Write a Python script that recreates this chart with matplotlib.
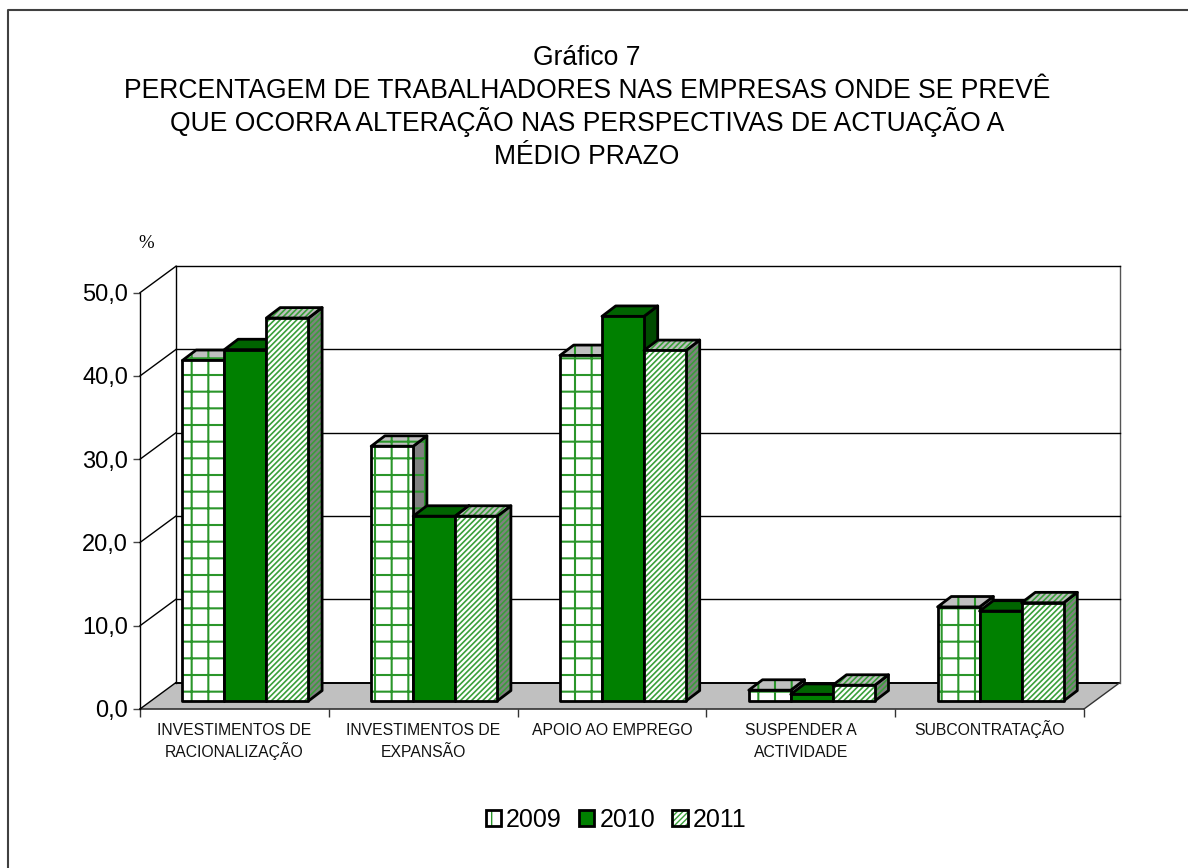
import matplotlib
matplotlib.use("Agg")
import matplotlib.pyplot as plt
from matplotlib.lines import Line2D
from matplotlib.patches import Polygon, Patch
from matplotlib.legend_handler import HandlerTuple

plt.rcParams['font.family'] = ['Liberation Sans', 'DejaVu Sans']

categorias = ["INVESTIMENTOS DE\nRACIONALIZAÇÃO", "INVESTIMENTOS DE\nEXPANSÃO",
              "APOIO AO EMPREGO", "SUSPENDER A\nACTIVIDADE", "SUBCONTRATAÇÃO"]
anos = ["2009", "2010", "2011"]
v2009 = [40.9, 30.6, 41.5, 1.3, 11.3]
v2010 = [42.2, 22.2, 46.2, 0.8, 10.8]
v2011 = [46.0, 22.2, 42.1, 1.9, 11.8]
yticks = [0, 10, 20, 30, 40, 50]

W, H = 1188, 868
# front plane of the 3d box, in pixels
X0, X1, Y0, Y50 = 140, 1084, 709, 292.7
PX = 5 / (X1 - X0)      # data units per pixel
PY = 50 / (Y0 - Y50)

verde = "#008000"
estilos = [
    dict(frente="white", topo="#c0c0c0", lado="#808080", hatch="+", cor="#2a962a", hl=1.5),
    dict(frente=verde, topo="#006400", lado="#004b00", hatch=None, cor=verde, hl=1.0),
    dict(frente="white", topo="#c0c0c0", lado="#808080", hatch="//////", cor="#3a9f3a", hl=1.2),
]

fig = plt.figure(figsize=(W / 100, H / 100), dpi=100)
# outer frame, only top and left fall inside the picture
fig.add_artist(Line2D([8 / W, 8 / W, 1], [0, 1 - 10 / H, 1 - 10 / H], color="#404040", lw=1.5,
                      transform=fig.transFigure))
ax = fig.add_axes([X0 / W, 1 - Y0 / H, (X1 - X0) / W, (Y0 - Y50) / H])
ax.set_xlim(0, 5)
ax.set_ylim(0, 50)
ax.patch.set_visible(False)
for s in ["top", "right", "bottom"]:
    ax.spines[s].set_visible(False)
ax.spines["left"].set_linewidth(1.0)

dx_box = 36 * PX
dy_box = 26.5 * PY


def poly(pts, fc, ec="none", lw=0, hatch=None, z=3, hl=1.0):
    plt.rcParams['hatch.linewidth'] = hl
    p = Polygon(pts, closed=True, facecolor=fc, edgecolor=ec, linewidth=lw, hatch=hatch,
                zorder=z, clip_on=False, joinstyle="round")
    ax.add_patch(p)


def face(pts, fc, est, z):
    if est["hatch"]:
        poly(pts, fc, ec=est["cor"], hatch=est["hatch"], z=z, hl=est["hl"])
    poly(pts, fc if not est["hatch"] else "none", ec="black", lw=2.0, z=z)


# floor and walls
poly([(0, 0), (dx_box, dy_box), (5 + dx_box, dy_box), (5, 0)], "#c0c0c0", z=1)
ax.plot([0, 5], [0, 0], color="#333333", lw=1.2, zorder=2, clip_on=False)
ax.plot([dx_box, 5 + dx_box], [dy_box, dy_box], color="black", lw=1.4, zorder=2, clip_on=False)
ax.plot([5, 5 + dx_box], [0, dy_box], color="#333333", lw=1.0, zorder=2, clip_on=False)
ax.plot([dx_box, dx_box], [dy_box, 50 + dy_box], color="black", lw=1.0, zorder=2, clip_on=False)
ax.plot([5 + dx_box, 5 + dx_box], [dy_box, 50 + dy_box], color="#555555", lw=1.0, zorder=2, clip_on=False)
for v in yticks:
    ax.plot([0, dx_box], [v, v + dy_box], color="black", lw=1.0, zorder=2, clip_on=False)
    if v > 0:
        ax.plot([dx_box, 5 + dx_box], [v + dy_box] * 2, color="black", lw=1.0, zorder=2, clip_on=False)

# bars, left to right so each one covers its neighbour's side
larg = 42 * PX
folga = (1 - 3 * larg) / 2
ox, oy = 11 * PX, 8 * PY      # bar front inside the box
px, py = 13.7 * PX, 10.4 * PY # bar depth
series = [v2009, v2010, v2011]
z = 3
for i in range(len(categorias)):
    for j, vals in enumerate(series):
        est = estilos[j]
        x = i + folga + ox + j * larg
        y0 = oy
        y1 = oy + vals[i]
        face([(x + larg, y0), (x + larg + px, y0 + py), (x + larg + px, y1 + py), (x + larg, y1)],
             est["lado"], est, z)
        face([(x, y1), (x + px, y1 + py), (x + larg + px, y1 + py), (x + larg, y1)],
             est["topo"], est, z + 1)
        face([(x, y0), (x + larg, y0), (x + larg, y1), (x, y1)], est["frente"], est, z + 2)
        z += 3

# axes
ax.set_yticks(yticks)
ax.set_yticklabels([("%.1f" % v).replace(".", ",") for v in yticks], fontsize=17)
ax.tick_params(axis="y", length=5, width=1.0, pad=3.6, color="#444444")
ax.set_xticks(range(6))
ax.set_xticklabels([""] * 6)
ax.tick_params(axis="x", length=5.4, width=1.0, color="#333333")
for i, nome in enumerate(categorias):
    for k, linha in enumerate(nome.split("\n")):
        ax.annotate(linha, xy=(i + 0.5, 0), xytext=(0, -(26 + 22.3 * k) * 0.72), textcoords="offset points",
                    ha="center", va="baseline", fontsize=11.3, color="#111111", annotation_clip=False)

# titles
titulo = ["Gráfico 7", "PERCENTAGEM DE TRABALHADORES NAS EMPRESAS ONDE SE PREVÊ",
          "QUE OCORRA ALTERAÇÃO NAS PERSPECTIVAS DE ACTUAÇÃO A", "MÉDIO PRAZO"]
for k, linha in enumerate(titulo):
    fig.text(586.7 / W, 1 - (65 + 33 * k) / H, linha, ha="center", va="baseline", fontsize=19.1)
fig.text(146 / W, 1 - 244 / H, "%", ha="center", va="center", fontsize=13.5, family="Liberation Serif")

# legend
plt.rcParams['hatch.linewidth'] = 1.0
handles = []
for est in estilos:
    if est["hatch"]:
        handles.append((Patch(fc=est["frente"], ec=est["cor"], hatch="|" if est["hatch"] == "+" else est["hatch"], lw=0),
                        Patch(fc="none", ec="black", lw=2.0)))
    else:
        handles.append(Patch(fc=est["frente"], ec="black", lw=2.0))
fig.legend(handles, anos, loc="center", bbox_to_anchor=(616 / W, 1 - 820 / H), ncol=3, frameon=False,
           fontsize=18, handlelength=0.62, handleheight=0.62, handletextpad=0.2, columnspacing=0.68,
           handler_map={tuple: HandlerTuple(ndivide=1, pad=0)})

fig.savefig("out.png", dpi=100, facecolor="white")
